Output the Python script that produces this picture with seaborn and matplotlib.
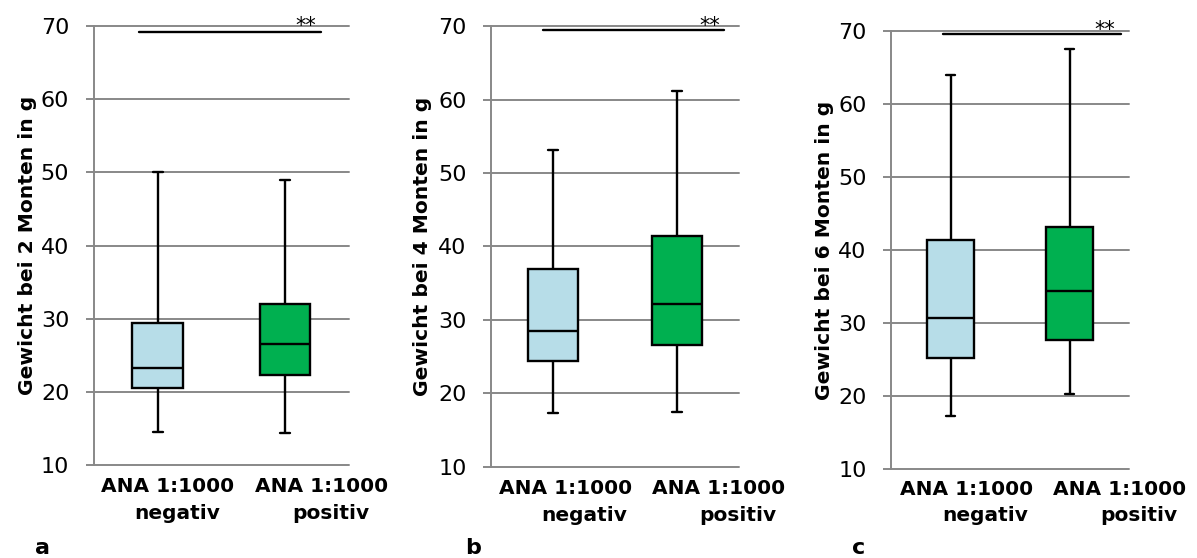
import numpy as np
import pandas as pd
import matplotlib
matplotlib.use("Agg")
import matplotlib.pyplot as plt
import seaborn as sns

# Five-number summaries (lower whisker, Q1, median, Q3, upper whisker) in g
groups = ["ANA 1:1000 negativ", "ANA 1:1000 positiv"]
neg_2m = [14.45, 20.45, 23.3, 29.35, 50.0]
pos_2m = [14.3, 22.3, 26.6, 32.0, 49.0]
neg_4m = [17.25, 24.4, 28.5, 36.9, 53.1]
pos_4m = [17.45, 26.6, 32.2, 41.4, 61.2]
neg_6m = [17.3, 25.2, 30.6, 41.3, 64.0]
pos_6m = [20.3, 27.6, 34.4, 43.1, 67.6]

months = ["2", "4", "6"]
panel_letters = ["a", "b", "c"]
yticks = [10, 20, 30, 40, 50, 60, 70]
sig_text = "**"

sns.set_theme(style="white")
plt.rcParams["font.family"] = ["DejaVu Sans"]
plt.rcParams["text.color"] = "black"
plt.rcParams["axes.labelcolor"] = "black"
plt.rcParams["ytick.color"] = "black"

W, H = 1197, 558
fig = plt.figure(figsize=(W / 100, H / 100), dpi=100)

GRID = "#888888"
BLUE = "#B7DDE8"
GREEN = "#00B050"

# axes rectangles in pixels: left, top, right, bottom
rects = [(94.0, 26.2, 348.7, 464.9),
         (491.3, 26.2, 738.7, 466.7),
         (891.3, 31.0, 1129.0, 468.8)]

# per-panel text placement (category coordinates)
label1_x = [(0.077, 1.284), (0.100, 1.338), (0.130, 1.420)]
label2_x = [(0.154, 1.363), (0.251, 1.490), (0.291, 1.582)]
label1_dy = [27.5, 26.9, 25.9]
label2_dy = [53.7, 53.9, 52.5]
sig_line = [(-0.144, 1.280, 69.26), (-0.080, 1.381, 69.51), (-0.062, 1.433, 69.65)]
sig_pos = [(1.163, 69.2), (1.270, 69.2), (1.296, 69.37)]
ylabel_x = [-0.225, -0.240, -0.241]
letter_x = [35, 465, 852]

data_sets = [(neg_2m, pos_2m), (neg_4m, pos_4m), (neg_6m, pos_6m)]

for i, (neg, pos) in enumerate(data_sets):
    l, t, r, b = rects[i]
    ax = fig.add_axes([l / W, 1 - b / H, (r - l) / W, (b - t) / H])

    df = pd.DataFrame({
        "Gruppe": [groups[0]] * len(neg) + [groups[1]] * len(pos),
        "Gewicht": neg + pos,
    })
    sns.boxplot(data=df, x="Gruppe", y="Gewicht", hue="Gruppe",
                palette=[BLUE, GREEN], saturation=1, width=0.4,
                whis=(0, 100), showfliers=False, linecolor="black",
                linewidth=1.7, capwidths=0.08, legend=False, ax=ax,
                zorder=3)

    ax.set_xlim(-0.5, 1.5)
    ax.set_ylim(10, 70)
    ax.set_yticks(yticks)
    ax.set_yticklabels([str(v) for v in yticks], fontsize=16, color="black")
    ax.tick_params(axis="y", length=5.8, width=1.4, color=GRID, pad=12,
                   left=True, direction="out", labelcolor="black")
    ax.set_xticks([])
    ax.set_xlabel("")
    ax.grid(axis="y", color=GRID, linewidth=1.4, zorder=0)
    ax.set_axisbelow(True)
    for gl in ax.get_ygridlines():
        gl.set_clip_on(False)
    for side in ["top", "right", "bottom"]:
        ax.spines[side].set_visible(False)
    ax.spines["left"].set_color(GRID)
    ax.spines["left"].set_linewidth(1.4)

    ax.set_ylabel(f"Gewicht bei {months[i]} Monten in g", fontsize=14.6,
                  fontweight="bold", color="black")
    ax.yaxis.set_label_coords(ylabel_x[i], 0.5)

    # category labels, two lines each
    hpx = b - t
    tr = ax.get_xaxis_transform()
    for j in range(2):
        ax.text(label1_x[i][j], -label1_dy[i] / hpx, "ANA 1:1000", transform=tr,
                ha="center", va="baseline", fontsize=14.5, fontweight="bold",
                color="black", clip_on=False)
        ax.text(label2_x[i][j], -label2_dy[i] / hpx,
                ["negativ", "positiv"][j], transform=tr,
                ha="center", va="baseline", fontsize=14.5, fontweight="bold",
                color="black", clip_on=False)

    # significance bar
    x0, x1, yl = sig_line[i]
    ax.plot([x0, x1], [yl, yl], color="black", linewidth=1.7, clip_on=False,
            zorder=4)
    sx, sy = sig_pos[i]
    ax.text(sx, sy, sig_text, ha="center", va="baseline", fontsize=15,
            color="black", clip_on=False)

    fig.text(letter_x[i] / W, 1 - 553.5 / H, panel_letters[i],
             ha="left", va="baseline", fontsize=16, fontweight="bold",
             color="black")

fig.savefig("out.png", dpi=100)
